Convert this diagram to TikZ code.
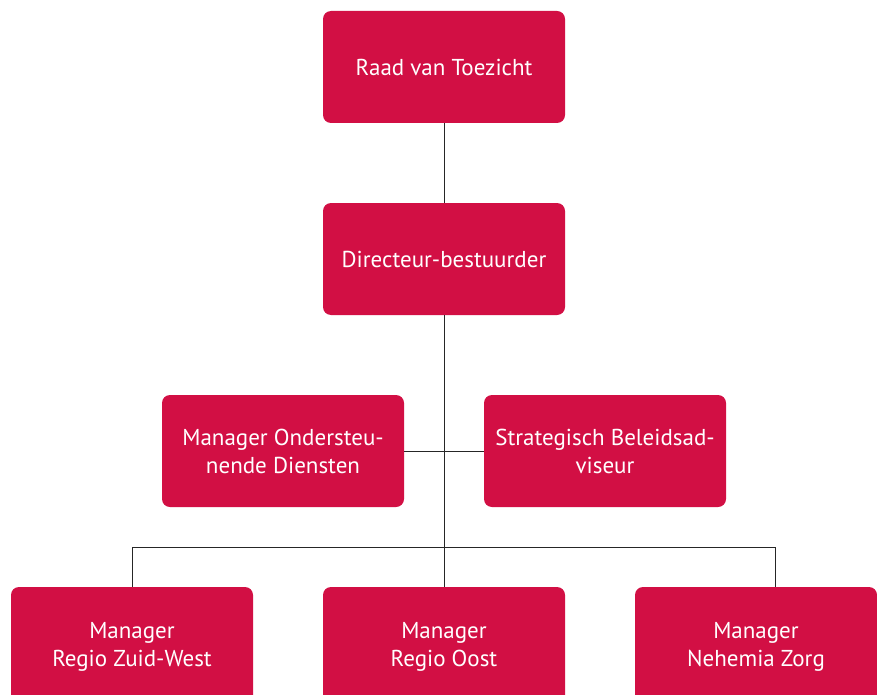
\documentclass[tikz,border=0pt]{standalone}
\usepackage{fontspec}
\setmainfont{PT Sans}
\definecolor{boxred}{HTML}{D20F44}
\tikzstyle{orgbox} = [rectangle, rounded corners=8pt, minimum width=242pt, minimum height=112pt, text centered, align=center, fill=boxred, text=white, font=\fontsize{23}{28}\selectfont]
\tikzstyle{link} = [draw=black!85, line width=0.9pt]

\begin{document}
\begin{tikzpicture}[x=1pt, y=1pt, node distance=192pt]
\useasboundingbox (0,0) rectangle (877,-695);
\node (rvt) [orgbox] at (444,-67) {Raad van Toezicht};
\node (dir) [orgbox, below of=rvt] {Directeur-bestuurder};
\node (mod) [orgbox, below of=dir, xshift=-161pt] {Manager Ondersteu-\\nende Diensten};
\node (sba) [orgbox, below of=dir, xshift=161pt] {Strategisch Beleidsad-\\viseur};
\node (rzw) [orgbox, minimum height=120pt, below of=dir, xshift=-312pt, yshift=-196pt] {Manager\\Regio Zuid-West};
\node (ro) [orgbox, minimum height=120pt, below of=dir, yshift=-196pt] {Manager\\Regio Oost};
\node (nz) [orgbox, minimum height=120pt, below of=dir, xshift=312pt, yshift=-196pt] {Manager\\Nehemia Zorg};
\coordinate (split) at (444,-547);
\coordinate (nzin) at ([xshift=19pt]nz.north);

\draw [link] (rvt) -- (dir);
\draw [link] (dir) -- (ro);
\draw [link] (mod) -- (sba);
\draw [link] (split) -| (rzw);
\draw [link] (split) -| (nzin);
\end{tikzpicture}
\end{document}
